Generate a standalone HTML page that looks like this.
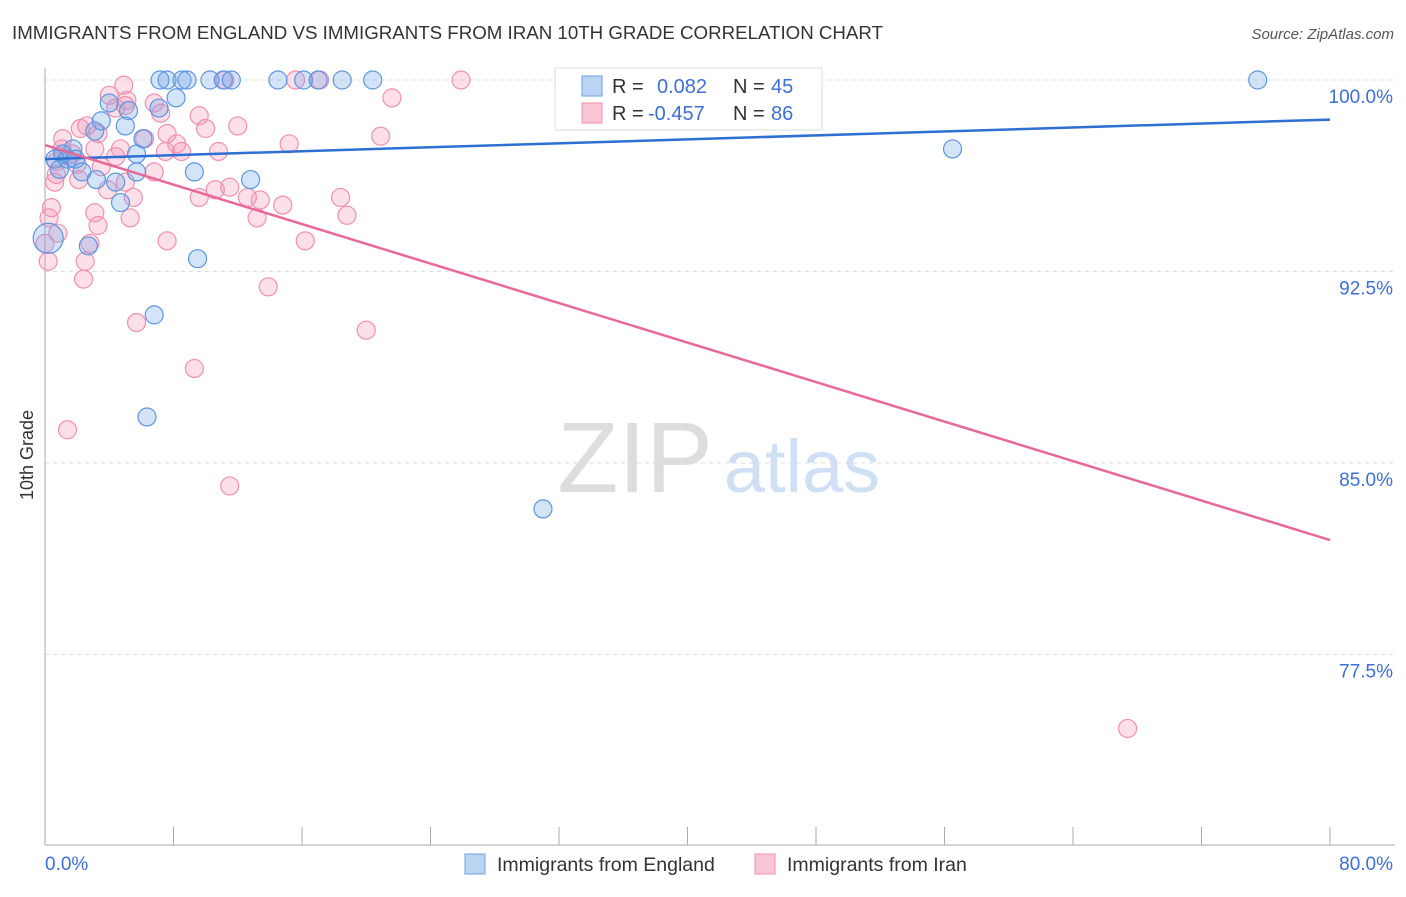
<!DOCTYPE html>
<html><head><meta charset="utf-8"><style>
body{margin:0;background:#fff;font-family:"Liberation Sans",sans-serif;}
svg text{font-family:"Liberation Sans",sans-serif;}
</style></head><body>
<svg width="1406" height="892" viewBox="0 0 1406 892">
<text x="12" y="39" font-size="18" fill="#333" textLength="871" lengthAdjust="spacingAndGlyphs">IMMIGRANTS FROM ENGLAND VS IMMIGRANTS FROM IRAN 10TH GRADE CORRELATION CHART</text>
<text x="1394" y="39" font-size="15" fill="#555" font-style="italic" text-anchor="end">Source: ZipAtlas.com</text>
<text x="33" y="455" font-size="18" fill="#333" transform="rotate(-90 33 455)" text-anchor="middle">10th Grade</text>
<g>
<text x="635" y="492" font-size="100" fill="#ddd" text-anchor="middle" font-family="Liberation Serif,serif">ZIP</text>
<text x="802" y="492" font-size="74" fill="#cfe0f5" text-anchor="middle">atlas</text>
</g>
<g id="grid"></g><g id="axes"></g><g id="pts"></g><g id="lines"></g>
<g>
<rect x="555" y="68" width="267" height="62" fill="#fff" stroke="#ddd"/>
<rect x="582" y="76" width="20" height="20" fill="#bcd4f3" stroke="#6aa0e0"/>
<text x="612" y="93" font-size="20" fill="#333">R = </text><text x="657" y="93" font-size="20" fill="#3d6fd6">0.082</text>
<text x="733" y="93" font-size="20" fill="#333">N = </text><text x="771" y="93" font-size="20" fill="#3d6fd6">45</text>
<rect x="582" y="103" width="20" height="20" fill="#f9c6d6" stroke="#ef90b0"/>
<text x="612" y="120" font-size="20" fill="#333">R = </text><text x="648" y="120" font-size="20" fill="#3d6fd6">-0.457</text>
<text x="733" y="120" font-size="20" fill="#333">N = </text><text x="771" y="120" font-size="20" fill="#3d6fd6">86</text>
</g>
<g>
<rect x="465" y="854" width="20" height="20" fill="#bcd4f3" stroke="#6aa0e0"/>
<text x="497" y="871" font-size="19.5" fill="#333">Immigrants from England</text>
<rect x="755" y="854" width="20" height="20" fill="#f9c6d6" stroke="#ef90b0"/>
<text x="787" y="871" font-size="19.5" fill="#333">Immigrants from Iran</text>
</g>
</svg>
<script>
const yTicks=[100,92.5,85,77.5];
const yTickLabels=["100.0%","92.5%","85.0%","77.5%"];
const blueX=[7.16,7.6,8.53,8.84,10.27,11.1,11.6,14.5,16.1,17.0,18.5,20.4,33.0,75.5,8.16,4.0,7.1,5.2,5.0,3.5,6.1,3.1,1.74,1.1,0.62,5.7,1.4,2.3,3.2,4.4,5.7,9.3,12.8,4.7,2.7,9.5,6.8,6.35,31.0,56.5,1.9,0.9,0.2];
const blueY=[100,100,100,100,100,100,100,100,100,100,100,100,100,100,99.3,99.1,98.9,98.8,98.2,98.4,97.7,98.0,97.3,97.1,96.9,97.1,96.9,96.4,96.1,96.0,96.4,96.4,96.1,95.2,93.5,93.0,90.8,86.8,83.2,97.3,96.9,96.5,93.8];
const pinkX=[4.9,4.0,5.1,6.8,4.4,5.0,7.2,9.6,15.6,11.2,17.1,25.9,21.6,12.0,10.0,2.2,2.6,1.1,3.3,6.2,7.6,20.9,15.2,8.2,4.7,7.5,8.5,10.8,1.7,3.1,4.4,0.7,2.0,3.5,6.8,5.0,2.1,0.6,0.7,3.9,10.6,11.5,9.6,5.5,12.6,13.4,14.8,18.4,0.4,3.1,18.8,13.2,5.3,0.25,3.3,0.8,7.6,16.2,2.8,0.2,2.5,2.4,13.9,5.7,20.0,9.3,1.4,11.5,67.4,0,1.06];
const pinkY=[99.8,99.4,99.2,99.1,98.9,99.0,98.7,98.6,100,100,100,100,99.3,98.2,98.1,98.1,98.2,97.7,97.9,97.7,97.9,97.8,97.5,97.5,97.3,97.2,97.2,97.2,97.1,97.3,97.0,96.8,96.7,96.6,96.4,96.0,96.1,96.0,96.3,95.7,95.7,95.8,95.4,95.4,95.4,95.3,95.1,95.4,95.0,94.8,94.7,94.6,94.6,94.6,94.3,94.0,93.7,93.7,93.6,92.9,92.9,92.2,91.9,90.5,90.2,88.7,86.3,84.1,74.6,93.6,97.3];
const blueTrend=[96.9,98.45];
const pinkTrend=[97.45,81.98];
const X=v=>45+v/80*1285, Y=v=>80+(100-v)*25.53;
const NS="http://www.w3.org/2000/svg";
function mk(t,a,p){const e=document.createElementNS(NS,t);for(const k in a)e.setAttribute(k,a[k]);document.getElementById(p).appendChild(e);return e;}
yTicks.forEach((t,i)=>{
 const l=mk('line',{x1:45,x2:1395,y1:Y(t),y2:Y(t),stroke:'#ddd','stroke-dasharray':'4,4'},'grid');
 
 
 const tx=mk('text',{x:1393,y:Y(t)+23,'font-size':19,fill:'#3d6fd6','text-anchor':'end'},'grid');tx.textContent=yTickLabels[i];
 
 
});
mk('line',{x1:45,x2:45,y1:68,y2:845,stroke:'#aaa'},'axes');
mk('line',{x1:45,x2:1395,y1:845,y2:845,stroke:'#aaa'},'axes');
for(let i=1;i<=10;i++){const t=mk('line',{x1:X(i*8),x2:X(i*8),y1:827,y2:845,stroke:'#aaa'},'axes');
 
 }
const a=mk('text',{x:45,y:870,'font-size':19,fill:'#3d6fd6'},'axes');a.textContent='0.0%';


const b=mk('text',{x:1393,y:870,'font-size':19,fill:'#3d6fd6','text-anchor':'end'},'axes');b.textContent='80.0%';


pinkX.forEach((x,i)=>{const c=mk('circle',{cx:X(x),cy:Y(pinkY[i]),r:9,fill:'rgba(244,150,182,0.3)',stroke:'#ef90b0','stroke-width':1.2},'pts');
 
 });
blueX.forEach((x,i)=>{const c=mk('circle',{cx:X(x),cy:Y(blueY[i]),r:(i==blueX.length-1?15:9),fill:'rgba(110,165,235,0.3)',stroke:'#5b96e0','stroke-width':1.2},'pts');
 
 });
const bl=mk('line',{x1:X(0),x2:X(80),y1:Y(blueTrend[0]),y2:Y(blueTrend[1]),stroke:'#2d6fd2','stroke-width':2.5},'lines');


const pl=mk('line',{x1:X(0),x2:X(80),y1:Y(pinkTrend[0]),y2:Y(pinkTrend[1]),stroke:'#e8689a','stroke-width':2.5},'lines');


</script>
</body></html>
